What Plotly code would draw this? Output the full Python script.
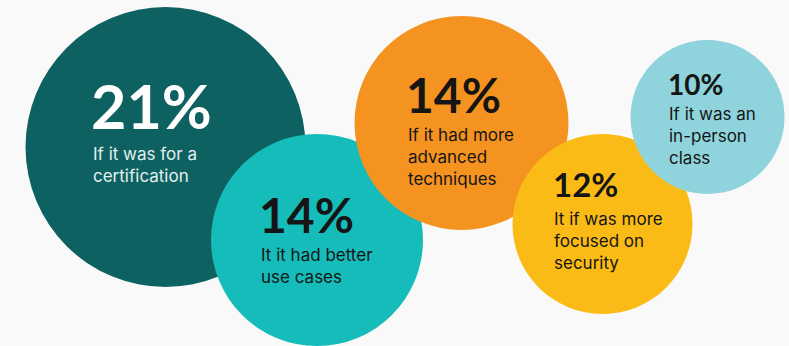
import plotly.graph_objects as go

# survey answers: share of respondents for each reason
percents = [21, 14, 14, 12, 10]
reasons = [
    "If it was for a<br>certification",
    "It it had better<br>use cases",
    "If it had more<br>advanced<br>techniques",
    "It if was more<br>focused on<br>security",
    "If it was an<br>in-person<br>class",
]

# bubble layout (in plot units, y grows downwards)
bubble_x = [165.5, 317, 461.5, 602.5, 707.5]
bubble_y = [147, 240, 123, 224, 117]
bubble_r = [140, 106, 107, 90, 77]

colors = ["#0e6161", "#16bcb9", "#f59321", "#fbbb17", "#8fd4dc"]
text_colors = ["#ffffff", "#151515", "#151515", "#151515", "#151515"]
desc_colors = ["#e4efef", "#151515", "#151515", "#151515", "#151515"]

# label placement
label_left = [92, 260, 407, 553, 668]
pct_top = [84, 197, 77, 172, 73]
pct_size = [61, 48, 48, 33, 28]
desc_top = [143, 244, 124, 208, 103]

PCT_FONT = "Lato, Inter, sans-serif"
FONT = "Inter, 'Noto Sans', sans-serif"

fig = go.Figure()
fig.add_trace(go.Scatter(x=[0, 789], y=[0, 346], mode="markers",
                         marker=dict(opacity=0), hoverinfo="skip", showlegend=False))

for i in range(len(percents)):
    fig.add_shape(
        type="circle", xref="x", yref="y",
        x0=bubble_x[i] - bubble_r[i], x1=bubble_x[i] + bubble_r[i],
        y0=bubble_y[i] - bubble_r[i], y1=bubble_y[i] + bubble_r[i],
        fillcolor=colors[i], line=dict(width=0), layer="below",
    )

for i in range(len(percents)):
    s = pct_size[i]
    fig.add_annotation(
        x=label_left[i] - 0.04 * s, y=pct_top[i] - 0.26 * s, xref="x", yref="y",
        text=f"{percents[i]}%", showarrow=False,
        xanchor="left", yanchor="top", borderpad=0,
        font=dict(family=PCT_FONT, size=s, color=text_colors[i], weight=700),
    )
    fig.add_annotation(
        x=label_left[i], y=desc_top[i], xref="x", yref="y",
        text=reasons[i], showarrow=False, align="left",
        xanchor="left", yanchor="top", borderpad=0,
        font=dict(family=FONT, size=17, color=desc_colors[i]),
    )

fig.update_xaxes(range=[0, 789], visible=False, fixedrange=True)
fig.update_yaxes(range=[346, 0], visible=False, fixedrange=True)
fig.update_layout(
    width=789, height=346,
    margin=dict(l=0, r=0, t=0, b=0),
    paper_bgcolor="#f9f9f9", plot_bgcolor="#f9f9f9",
    showlegend=False,
)

fig.write_html("out.html", config={"displayModeBar": False},
               post_script="document.body.style.margin='0px';")
